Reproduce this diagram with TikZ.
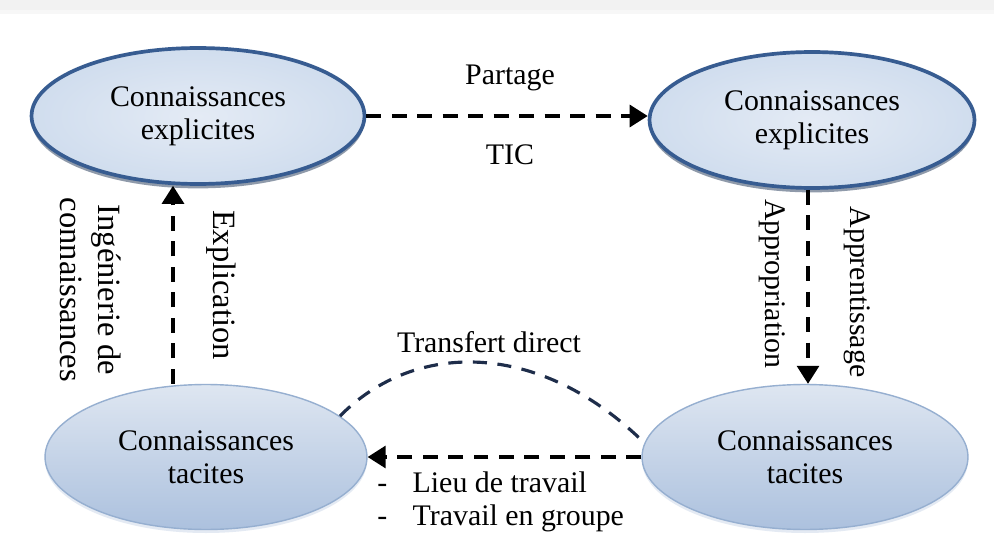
\documentclass[tikz,border=0pt]{standalone}
\usepackage{fontspec}
\setmainfont{Liberation Serif}
\usetikzlibrary{shapes.geometric,arrows.meta,shadows}
\definecolor{topborder}{RGB}{55,92,145}
\definecolor{topin}{RGB}{228,235,245}
\definecolor{topout}{RGB}{208,221,238}
\definecolor{botborder}{RGB}{150,175,208}
\definecolor{bottop}{RGB}{222,230,241}
\definecolor{botbot}{RGB}{172,193,222}
\definecolor{curvecol}{RGB}{30,45,74}
\tikzset{
  ktop/.style={ellipse, draw=topborder, line width=2.1pt, inner color=topin, outer color=topout,
    drop shadow={shadow xshift=0pt, shadow yshift=-2.5pt, opacity=0.5, fill=topborder!60!black},
    font=\fontsize{17}{19}\selectfont, align=center, inner sep=0pt},
  kbot/.style={ellipse, draw=botborder, line width=0.8pt, top color=bottop, bottom color=botbot,
    drop shadow={shadow xshift=0pt, shadow yshift=-2pt, opacity=0.25, fill=botborder},
    font=\fontsize{17}{19}\selectfont, align=center, inner sep=0pt},
  conn/.style={line width=1.8pt, dash pattern=on 8.5pt off 6pt},
  tip/.style={-{Triangle[length=0.36cm,width=0.44cm]}},
  lbl/.style={font=\fontsize{17}{19}\selectfont, inner sep=0pt},
  vlbl/.style={font=\fontsize{18.5}{21.5}\selectfont, inner sep=0pt, rotate=-90, align=center}
}
\begin{document}
\begin{tikzpicture}[x=0.02cm,y=-0.02cm]
\useasboundingbox (0,0) rectangle (994,544);
\fill[white] (0,0) rectangle (994,544);
\fill[black!5] (0,0) rectangle (994,10);
\fill[black!3] (0,10) rectangle (994,14);

\node[ktop, minimum width=6.66cm, minimum height=2.72cm] (TL) at (198,116) {Connaissances\\explicites};
\node[ktop, minimum width=6.5cm, minimum height=2.72cm] (TR) at (812,120) {Connaissances\\explicites};
\node[kbot, minimum width=6.44cm, minimum height=2.9cm] (BL) at (206,457) {Connaissances\\tacites};
\node[kbot, minimum width=6.52cm, minimum height=2.9cm] (BR) at (805,457) {Connaissances\\tacites};

\coordinate (lx) at (173,0);
\coordinate (rx) at (808,0);

% top arrow
\draw[conn, tip] (TL.east) -- (TR.west |- TL.east);
\node[lbl] (partage) at (510,78) {Partage};
\node[lbl] (tic) at (510,155) {TIC};

% left arrow
\draw[conn, tip] (BL.north -| lx) -- (TL.south -| lx);
\node[vlbl] (expl) at (221,285) {Explication};
\node[vlbl] (ing) at (91,290) {Ingénierie de\\connaissances};

% right arrow
\draw[conn, tip] (TR.south -| rx) -- (BR.north -| rx);
\node[lbl, rotate=-90] (appro) at (772,284) {Appropriation};
\node[lbl, rotate=-90] (appre) at (857,292) {Apprentissage};

% bottom arrow
\draw[conn, tip] (BR.west) -- (BL.east);
\node[lbl, anchor=west, align=left, font=\fontsize{17}{19}\selectfont] (lieu) at (377,502) {-\hspace{0.85em}Lieu de travail\\-\hspace{0.85em}Travail en groupe};

% curved transfer
\draw[line width=1.8pt, dash pattern=on 8pt off 6pt, curvecol] (BL.17) .. controls (415,340) and (540,340) .. (BR.175);
\node[lbl] (transfert) at (489,342) {Transfert direct};
\end{tikzpicture}
\end{document}
